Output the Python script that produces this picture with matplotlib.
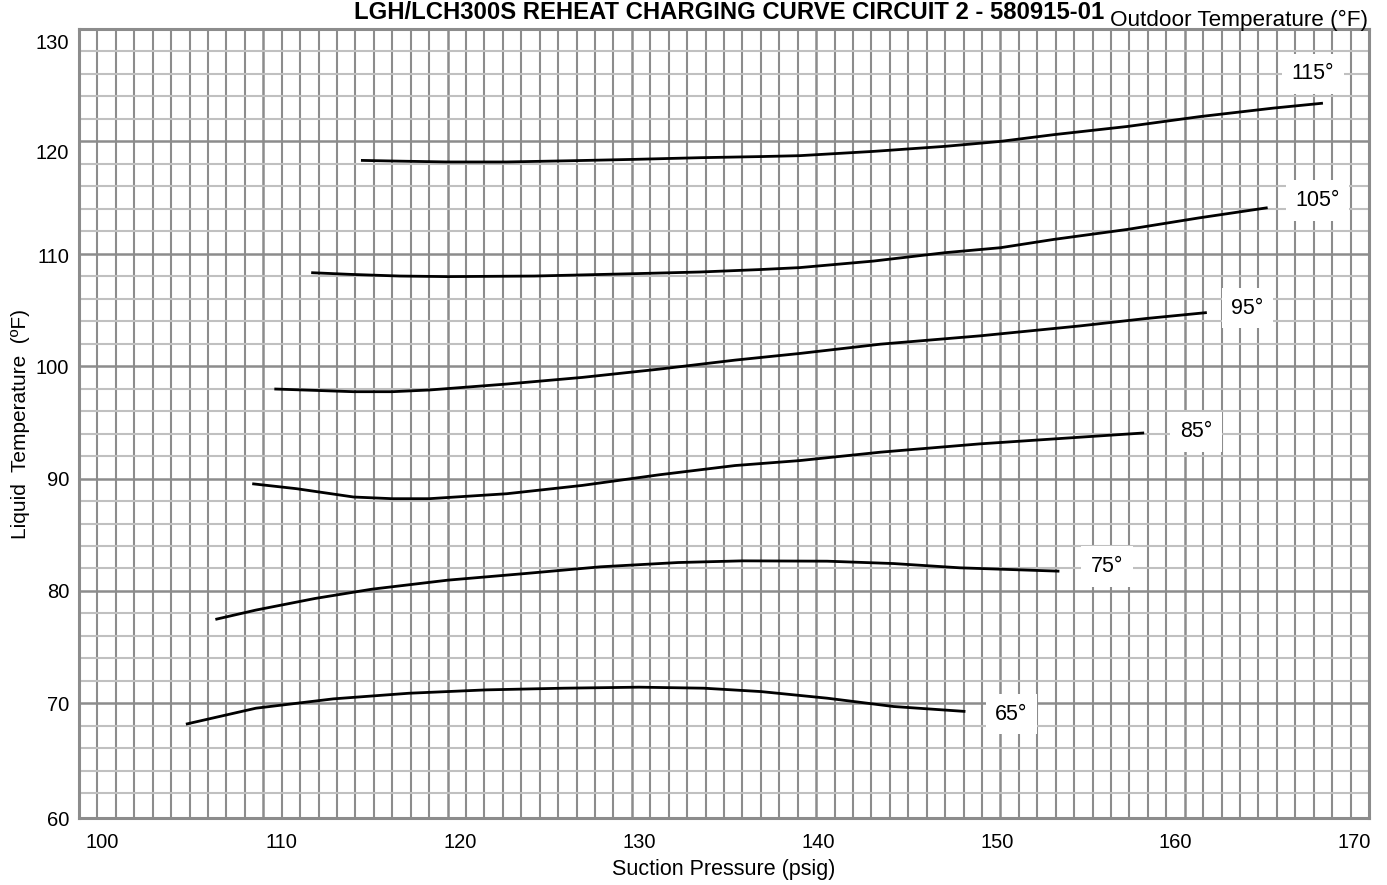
import numpy as np
import matplotlib.pyplot as plt

plt.rcParams['font.family'] = ['Liberation Sans', 'DejaVu Sans']

# 读图得到的充注曲线数据 (吸气压力 psig, 液体温度 °F)
p115 = [115.3, 117.5, 120.0, 123.2, 127.0, 130.1, 133.7, 137.0, 139.1, 143.1, 147.0, 150.0, 152.9, 156.9, 160.8, 164.8, 167.5]
t115 = [118.31, 118.24, 118.17, 118.17, 118.29, 118.4, 118.55, 118.65, 118.73, 119.11, 119.56, 120.0, 120.6, 121.33, 122.2, 122.96, 123.4]

p105 = [112.6, 114.7, 117.4, 120.0, 124.7, 130.1, 133.7, 137.0, 139.1, 143.1, 147.0, 150.0, 152.9, 156.9, 160.8, 164.5]
t105 = [108.32, 108.17, 108.02, 107.97, 108.02, 108.23, 108.38, 108.6, 108.77, 109.35, 110.1, 110.54, 111.28, 112.17, 113.2, 114.1]

p95 = [110.6, 114.9, 117.0, 119.0, 123.2, 127.3, 131.5, 135.6, 139.1, 143.5, 148.9, 154.3, 157.9, 161.2]
t95 = [97.97, 97.73, 97.73, 97.88, 98.41, 99.0, 99.74, 100.54, 101.13, 101.96, 102.7, 103.58, 104.24, 104.77]

p85 = [109.4, 111.8, 114.9, 117.0, 119.0, 123.2, 127.3, 131.5, 135.6, 139.1, 143.5, 148.9, 154.3, 157.8]
t85 = [89.54, 89.1, 88.36, 88.21, 88.21, 88.65, 89.39, 90.34, 91.16, 91.6, 92.35, 93.09, 93.68, 94.06]

p75 = [107.4, 109.6, 112.8, 115.9, 120.0, 124.2, 128.3, 132.5, 136.0, 140.6, 144.2, 147.8, 153.2]
t75 = [77.47, 78.3, 79.33, 80.16, 80.96, 81.55, 82.15, 82.53, 82.68, 82.65, 82.44, 82.06, 81.76]

p65 = [105.8, 109.6, 113.8, 117.9, 122.1, 126.3, 130.4, 133.9, 137.0, 140.6, 144.2, 148.1]
t65 = [68.15, 69.57, 70.4, 70.9, 71.2, 71.35, 71.44, 71.35, 71.05, 70.46, 69.72, 69.28]

curve_names = ['115°', '105°', '95°', '85°', '75°', '65°']
x_ticks = [100, 110, 120, 130, 140, 150, 160, 170]
y_ticks = [60, 70, 80, 90, 100, 110, 120, 130]

curves = [(p115, t115), (p105, t105), (p95, t95), (p85, t85), (p75, t75), (p65, t65)]
# 标签位置 (数据坐标)
label_pos = [(166.96, 126.0), (167.2, 114.74), (163.4, 105.16),
             (160.6, 94.15), (155.8, 82.17), (150.6, 69.04)]

fig = plt.figure(figsize=(13.87, 8.85), dpi=100)
ax = fig.add_axes([0.05696, 0.0757, 0.93006, 0.89153])
ax.set_xlim(100, 170)
ax.set_ylim(60, 130)

# 网格
for v in range(101, 170):
    lw = 1.8 if v % 10 == 0 else 1.5
    ax.axvline(v, color='#8c8c8c', lw=lw, zorder=1)
for v in range(62, 130, 2):
    if v % 10 == 0:
        ax.axhline(v, color='#8c8c8c', lw=1.8, zorder=1)
    else:
        ax.axhline(v, color='#c0c0c0', lw=1.5, zorder=1)

for s in ax.spines.values():
    s.set_color('#8c8c8c')
    s.set_linewidth(2.2)

for (px, ty) in curves:
    ax.plot(px, ty, color='black', lw=2.0, zorder=3, solid_capstyle='butt')

for name, (lx, ly) in zip(curve_names, label_pos):
    ax.text(lx, ly, name, ha='center', va='center', fontsize=15.5, zorder=4,
            bbox=dict(facecolor='white', edgecolor='none', pad=7))

# 刻度标签位置略有偏移, 和原图一致
xt_pos = [101.25 + (v - 100) * 0.971 for v in x_ticks]
ax.set_xticks(xt_pos)
ax.set_xticklabels([str(v) for v in x_ticks])
yt_pos = [59.8, 70, 80, 90, 100, 109.86, 119.1, 128.9]
ax.set_yticks(yt_pos)
ax.set_yticklabels([str(v) for v in y_ticks])
ax.tick_params(length=0, labelsize=14.5, pad=7)
ax.tick_params(axis='x', pad=11)

ax.set_xlabel('Suction Pressure (psig)', fontsize=15.5, labelpad=5)
ax.set_ylabel('Liquid  Temperature  (ºF)', fontsize=15, labelpad=4)

fig.text(0.526, 0.986, 'LGH/LCH300S REHEAT CHARGING CURVE CIRCUIT 2 - 580915-01',
         ha='center', va='center', fontsize=17.2, fontweight='bold')
fig.text(0.9865, 0.977, 'Outdoor Temperature (°F)', ha='right', va='center', fontsize=16.2)

fig.savefig('out.png', dpi=100)
